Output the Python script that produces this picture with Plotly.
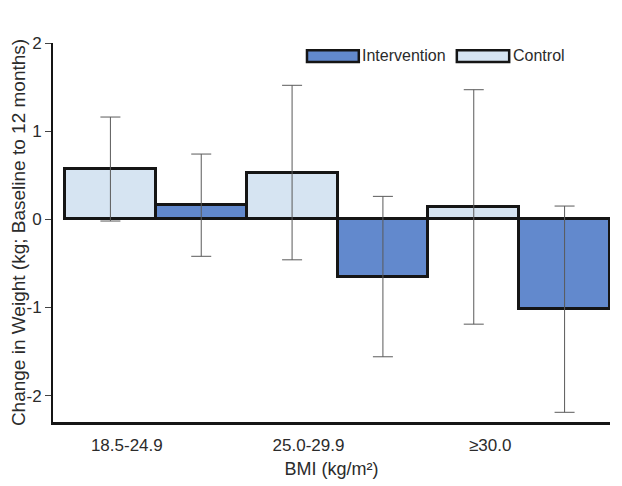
"""Change in weight by BMI group: intervention vs. control (Plotly HTML)."""

import plotly.graph_objects as go

BMI_GROUPS = ["18.5-24.9", "25.0-29.9", "≥30.0"]

CONTROL_MEAN = [0.57, 0.53, 0.14]
CONTROL_ERR = [0.59, 0.99, 1.33]

INTERVENTION_MEAN = [0.16, -0.65, -1.02]
INTERVENTION_ERR = [0.58, 0.91, 1.17]

Y_TICKS = [2, 1, 0, -1, -2]

COLORS = {
    "Intervention": "#6289cd",
    "Control": "#d6e4f2",
}
FONT = "Liberation Sans, Arial, Helvetica, sans-serif"
TEXT = "#2b2b2b"

fig = go.Figure()

for name, means, errs in [
    ("Control", CONTROL_MEAN, CONTROL_ERR),
    ("Intervention", INTERVENTION_MEAN, INTERVENTION_ERR),
]:
    fig.add_trace(go.Bar(
        x=BMI_GROUPS,
        y=means,
        name=name,
        marker=dict(color=COLORS[name], line=dict(color="#151515", width=3)),
        error_y=dict(type="data", array=errs, visible=True,
                     color="#5a5a5a", thickness=1, width=10),
        showlegend=False,
    ))

# --- hand-drawn legend with wide swatches (as in the original figure) ---
legend_items = [("Intervention", 0.456, 0.549), ("Control", 0.725, 0.819)]
for name, x0, x1 in legend_items:
    fig.add_shape(
        type="rect", xref="paper", yref="paper",
        x0=x0, x1=x1, y0=0.950, y1=0.981,
        fillcolor=COLORS[name], line=dict(color="#151515", width=2.5),
    )
    fig.add_annotation(
        text=name, xref="paper", yref="paper",
        x=x1 + 0.003, y=0.966, xanchor="left", yanchor="middle",
        showarrow=False, font=dict(size=16, color=TEXT, family=FONT),
    )

# page body has an 8px margin, so the figure is sized/offset to fit the window
fig.update_layout(
    barmode="group",
    bargap=0,
    bargroupgap=0,
    width=614,
    height=478,
    margin=dict(l=45, r=12, t=35, b=64),
    plot_bgcolor="white",
    paper_bgcolor="white",
    font=dict(family=FONT, color=TEXT, size=17),
    xaxis=dict(
        range=[-0.566, 2.5],
        showline=True, linecolor="#151515", linewidth=3,
        ticks="", showgrid=False, zeroline=False,
        ticklabelshift=-29, ticklabelstandoff=6,
        tickfont=dict(size=17),
        automargin=False,
        title=dict(text="BMI (kg/m²)", font=dict(size=18), standoff=8),
    ),
    yaxis=dict(
        range=[-2.3, 2],
        tickvals=Y_TICKS,
        ticktext=[str(v) for v in Y_TICKS],
        showline=True, linecolor="#151515", linewidth=2,
        ticks="outside", ticklen=6, tickcolor="#444",
        showgrid=False, zeroline=False,
        tickfont=dict(size=17),
        automargin=False,
        title=dict(text="Change in Weight (kg; Baseline to 12 months)",
                   font=dict(size=19), standoff=11),
    ),
)

fig.write_html("out.html")
